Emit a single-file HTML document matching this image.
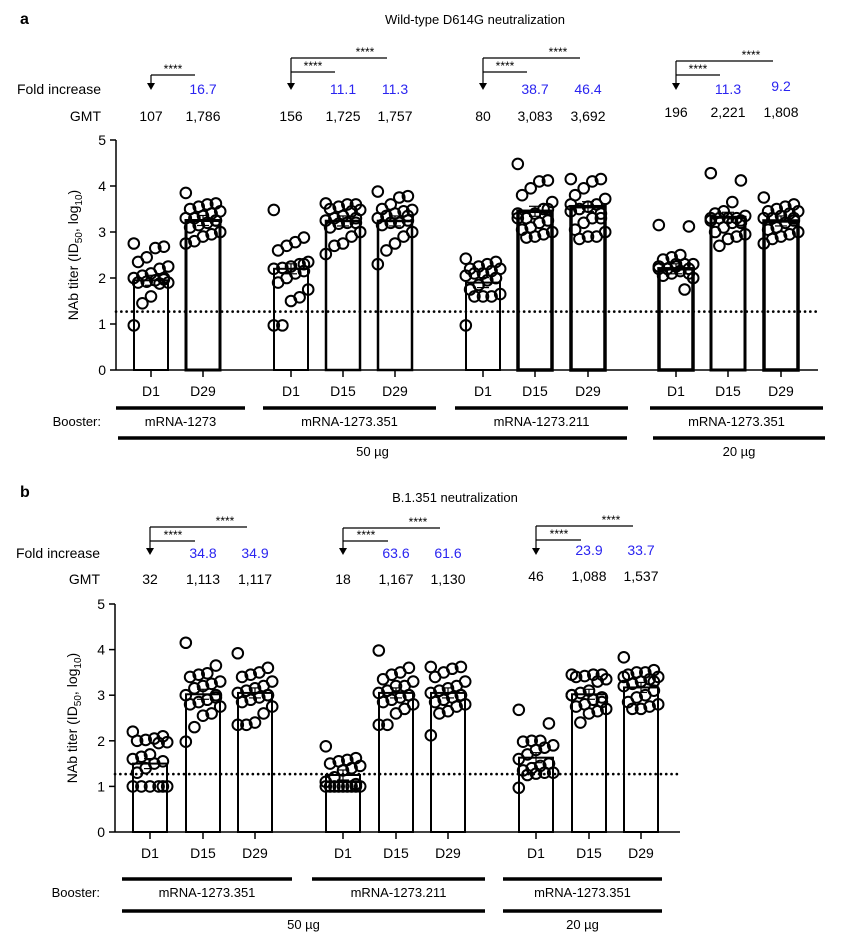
<!DOCTYPE html>
<html><head><meta charset="utf-8"><style>
html,body{margin:0;padding:0;background:#fff;width:841px;height:944px;overflow:hidden}
svg{display:block;font-family:"Liberation Sans",sans-serif}
</style></head><body>
<svg id="chart" width="841" height="944" viewBox="0 0 841 944"></svg>
<script>
const aCategories=["D1","D29","D1","D15","D29","D1","D15","D29","D1","D15","D29"];
const aBars=[1.95,3.25,2.2,3.24,3.24,1.9,3.45,3.55,2.2,3.32,3.24];
const aFold=["","16.7","","11.1","11.3","","38.7","46.4","","11.3","9.2"];
const aGMT=["107","1,786","156","1,725","1,757","80","3,083","3,692","196","2,221","1,808"];
const aPoints=[
[2.75,2.68,2.65,2.45,2.35,2.25,2.2,2.1,2.05,2.0,1.97,1.95,1.92,1.9,1.9,1.88,1.6,1.45,0.97,2.0],
[3.85,3.62,3.6,3.55,3.5,3.45,3.4,3.35,3.3,3.3,3.25,3.2,3.15,3.1,3.0,2.95,2.9,2.8,2.75,3.25],
[3.48,2.88,2.78,2.7,2.6,2.35,2.3,2.25,2.22,2.2,2.15,2.1,2.0,1.9,1.75,1.58,1.5,0.97,0.97,2.3],
[3.62,3.6,3.6,3.55,3.5,3.48,3.45,3.35,3.3,3.25,3.2,3.2,3.18,3.1,3.0,2.9,2.75,2.7,2.52,3.3],
[3.88,3.78,3.75,3.6,3.5,3.48,3.45,3.4,3.35,3.3,3.25,3.2,3.2,3.15,3.0,2.9,2.75,2.6,2.3,3.35],
[2.42,2.35,2.3,2.25,2.2,2.2,2.15,2.1,2.1,2.05,2.0,1.95,1.85,1.75,1.65,1.6,1.6,1.6,0.97,2.0],
[4.48,4.12,4.1,3.95,3.8,3.65,3.5,3.4,3.3,3.3,3.25,3.2,3.1,3.05,3.0,2.95,2.9,2.88,3.4,3.5],
[4.15,4.15,4.1,3.95,3.8,3.72,3.6,3.55,3.5,3.45,3.4,3.3,3.2,3.05,3.0,2.9,2.9,2.85,3.6,3.3],
[3.15,3.12,2.5,2.45,2.4,2.3,2.3,2.25,2.2,2.2,2.2,2.15,2.1,2.05,2.0,1.75,2.3,2.2,2.25,2.1],
[4.28,4.12,3.65,3.45,3.4,3.35,3.3,3.3,3.3,3.25,3.2,3.2,3.1,3.0,2.95,2.9,2.85,2.7,3.3,3.25],
[3.75,3.6,3.55,3.5,3.45,3.45,3.4,3.35,3.3,3.3,3.25,3.2,3.1,3.05,3.0,2.95,2.9,2.85,2.75,3.3]];
const bCategories=["D1","D15","D29","D1","D15","D29","D1","D15","D29"];
const bBars=[1.5,3.02,3.05,1.25,3.05,3.05,1.63,3.02,3.17];
const bFold=["","34.8","34.9","","63.6","61.6","","23.9","33.7"];
const bGMT=["32","1,113","1,117","18","1,167","1,130","46","1,088","1,537"];
const bPoints=[
[2.2,2.1,2.05,2.02,2.0,1.97,1.95,1.7,1.65,1.6,1.55,1.5,1.4,1.3,1.0,1.0,1.0,1.0,1.0,1.0],
[4.15,3.65,3.48,3.45,3.4,3.3,3.25,3.2,3.15,3.0,2.95,2.9,2.85,2.8,2.75,2.6,2.55,2.3,1.98,3.0],
[3.92,3.6,3.5,3.45,3.4,3.3,3.2,3.15,3.1,3.05,3.0,2.95,2.9,2.85,2.75,2.6,2.4,2.35,2.35,3.0],
[1.88,1.62,1.58,1.55,1.5,1.45,1.4,1.35,1.2,1.1,1.05,1.0,1.0,1.0,1.0,1.0,1.0,1.0,1.0,1.0],
[3.98,3.6,3.5,3.45,3.35,3.3,3.2,3.2,3.1,3.05,3.0,2.95,2.9,2.85,2.8,2.7,2.6,2.35,2.35,3.0],
[3.62,3.62,3.58,3.5,3.4,3.3,3.2,3.15,3.1,3.05,3.0,2.95,2.9,2.85,2.8,2.75,2.65,2.6,2.12,3.0],
[2.68,2.38,2.0,2.0,1.98,1.9,1.85,1.8,1.7,1.6,1.5,1.45,1.4,1.35,1.3,1.3,1.28,1.25,0.97,1.5],
[3.45,3.45,3.45,3.42,3.4,3.35,3.3,3.1,3.05,3.0,2.95,2.9,2.8,2.75,2.7,2.65,2.6,2.4,3.0,2.85],
[3.83,3.55,3.5,3.5,3.45,3.4,3.35,3.3,3.25,3.2,3.1,3.0,2.95,2.85,2.8,2.75,2.7,2.7,3.4,3.3]];
const yTicks=[0,1,2,3,4,5];
const lod=1.27;

const svg=document.getElementById('chart');
const NS='http://www.w3.org/2000/svg';
function el(tag,attrs,parent,text){const e=document.createElementNS(NS,tag);for(const k in attrs)e.setAttribute(k,attrs[k]);if(text!==undefined)e.textContent=text;(parent||svg).appendChild(e);return e;}
function txt(x,y,s,size,name,opts){opts=opts||{};const t=el('text',{x:x,y:y,'font-size':size,'text-anchor':opts.anchor||'middle',fill:opts.fill||'#000','font-weight':opts.bold?'bold':'normal'},opts.parent,s);


return t;}
function line(x1,y1,x2,y2,w,name,parent,dash){const l=el('line',{x1:x1,y1:y1,x2:x2,y2:y2,stroke:'#000','stroke-width':w},parent);if(dash){l.setAttribute('stroke-dasharray',dash);l.setAttribute('stroke-linecap','round');}


return l;}

function panel(cfg){
  const g=el('g',{});
  
  
  const y=v=>cfg.y0-(cfg.y0-cfg.y5)*v/5;
  // axis
  line(cfg.ax,cfg.y5,cfg.ax,cfg.y0,1.5,'y-axis-line',g);
  line(cfg.ax,cfg.y0,cfg.axEnd,cfg.y0,1.5,'x-axis-line',g);
  yTicks.forEach(t=>{line(cfg.ax-6,y(t),cfg.ax,y(t),1.5,'y-tick',g);txt(cfg.ax-10,y(t)+5,String(t),14,'y-tick-label',{anchor:'end',parent:g});});
  const yt=txt(0,0,'',14,'y-axis-title',{parent:g});
  yt.setAttribute('transform','translate('+(cfg.ax-38)+','+y(2.5)+') rotate(-90)');
  yt.innerHTML='NAb titer (ID<tspan font-size="10" dy="4">50</tspan><tspan dy="-4">, log</tspan><tspan font-size="10" dy="4">10</tspan><tspan dy="-4">)</tspan>';
  txt(cfg.ax-15,cfg.foldY,'Fold increase',14,'fold-increase-label',{anchor:'end',parent:g});
  txt(cfg.ax-15,cfg.gmtY,'GMT',14,'gmt-label',{anchor:'end',parent:g});
  cfg.bars.forEach((v,i)=>{
    const cx=cfg.xs[i],bw=34;
    const r=el('rect',{x:cx-bw/2,y:y(v),width:bw,height:cfg.y0-y(v),fill:'#fff',stroke:'#000','stroke-width':cfg.bw[i]},g);
    
    
    line(cx,y(v)-5,cx,y(v)+5,1.2,'error-bar',g);
    line(cx-6,y(v)-5,cx+6,y(v)-5,1.2,'error-cap',g);
    line(cx-6,y(v)+5,cx+6,y(v)+5,1.2,'error-cap',g);
    cfg.points[i].forEach((p,j)=>{
      const off=(((j*7)%9)-4)*4.3;
      const c=el('circle',{cx:cx+off,cy:y(p),r:5.3,fill:'none',stroke:'#000','stroke-width':2},g);
      
      
    });
    line(cx,cfg.y0,cx,cfg.y0+7,1.5,'x-tick',g);
    txt(cx,cfg.y0+26,cfg.cats[i],14,'x-tick-label',{parent:g});
    if(cfg.fold[i])txt(cx,cfg.foldY+(cfg.foldDy[i]||0),cfg.fold[i],14,'fold-value',{fill:'#2a24f0',parent:g});
    txt(cx,cfg.gmtY+(cfg.gmtDy[i]||0),cfg.gmt[i],14,'gmt-value',{parent:g});
  });
  line(cfg.ax,y(lod),cfg.axEnd,y(lod),2.6,'limit-of-detection-line',g,'0.1 5.2');
  // brackets
  cfg.brackets.forEach(b=>{
    const x0=cfg.xs[b.from];
    line(x0,b.outer,x0,b.arrowEnd-6,1.2,'bracket-arrow',g);
    const a=el('polygon',{points:(x0-4)+','+(b.arrowEnd-7)+' '+(x0+4)+','+(b.arrowEnd-7)+' '+x0+','+b.arrowEnd,fill:'#000'},g);
    
    
    b.to.forEach((t,k)=>{
      const yy=b.to.length===2&&k===0?b.inner:b.outer;
      const xe=cfg.xs[t]-8;
      line(x0,yy,xe,yy,1.2,'comparison-bracket',g);
      txt(xe-22,yy-2,'****',12,'significance-stars',{parent:g});
    });
  });
  // booster annotations
  txt(cfg.boostX,cfg.boostY,'Booster:',13,'booster-label',{anchor:'end',parent:g});
  cfg.groups.forEach(gr=>{
    line(gr[0],cfg.ul1,gr[1],cfg.ul1,3.5,'group-underline',g);
    txt((gr[0]+gr[1])/2,cfg.boostY,gr[2],13,'booster-name',{parent:g});
  });
  cfg.doses.forEach(d=>{
    line(d[0],cfg.ul2,d[1],cfg.ul2,3.5,'dose-underline',g);
    txt((d[0]+d[1])/2,cfg.ul2+18,d[2],13,'dose-label',{parent:g});
  });
}

txt(20,24,'a',16,'panel-a-label',{anchor:'start',bold:true});
txt(475,24,'Wild-type D614G neutralization',13,'panel-a-title');
panel({name:'panel-a',ax:116,axEnd:818,y0:370,y5:140,xs:[151,203,291,343,395,483,535,588,676,728,781],
  bars:aBars,points:aPoints,cats:aCategories,fold:aFold,gmt:aGMT,
  bw:[2,3,2,2.5,2.5,2,3.5,3.5,3.5,3,3.5],
  foldY:94,gmtY:121,foldDy:{9:0,10:-3},gmtDy:{8:-4,9:-4,10:-4},
  brackets:[{from:0,to:[1],outer:75,inner:75,arrowEnd:90},{from:2,to:[3,4],outer:58,inner:72,arrowEnd:90},
    {from:5,to:[6,7],outer:58,inner:72,arrowEnd:90},{from:8,to:[9,10],outer:61,inner:75,arrowEnd:90}],
  boostX:101,boostY:426,ul1:408,ul2:438,
  groups:[[116,245,'mRNA-1273'],[263,436,'mRNA-1273.351'],[455,628,'mRNA-1273.211'],[650,823,'mRNA-1273.351']],
  doses:[[118,627,'50 µg'],[653,825,'20 µg']]});

txt(20,497,'b',16,'panel-b-label',{anchor:'start',bold:true});
txt(455,502,'B.1.351 neutralization',13,'panel-b-title');
panel({name:'panel-b',ax:115,axEnd:680,y0:832,y5:604,xs:[150,203,255,343,396,448,536,589,641],
  bars:bBars,points:bPoints,cats:bCategories,fold:bFold,gmt:bGMT,
  bw:[2,2,2,2,2,2,2,2,2],
  foldY:558,gmtY:584,foldDy:{7:-3,8:-3},gmtDy:{6:-3,7:-3,8:-3},
  brackets:[{from:0,to:[1,2],outer:527,inner:541,arrowEnd:555},{from:3,to:[4,5],outer:528,inner:541,arrowEnd:555},
    {from:6,to:[7,8],outer:526,inner:540,arrowEnd:555}],
  boostX:100,boostY:897,ul1:879,ul2:911,
  groups:[[122,292,'mRNA-1273.351'],[312,485,'mRNA-1273.211'],[503,662,'mRNA-1273.351']],
  doses:[[122,485,'50 µg'],[503,662,'20 µg']]});
</script>
</body></html>
